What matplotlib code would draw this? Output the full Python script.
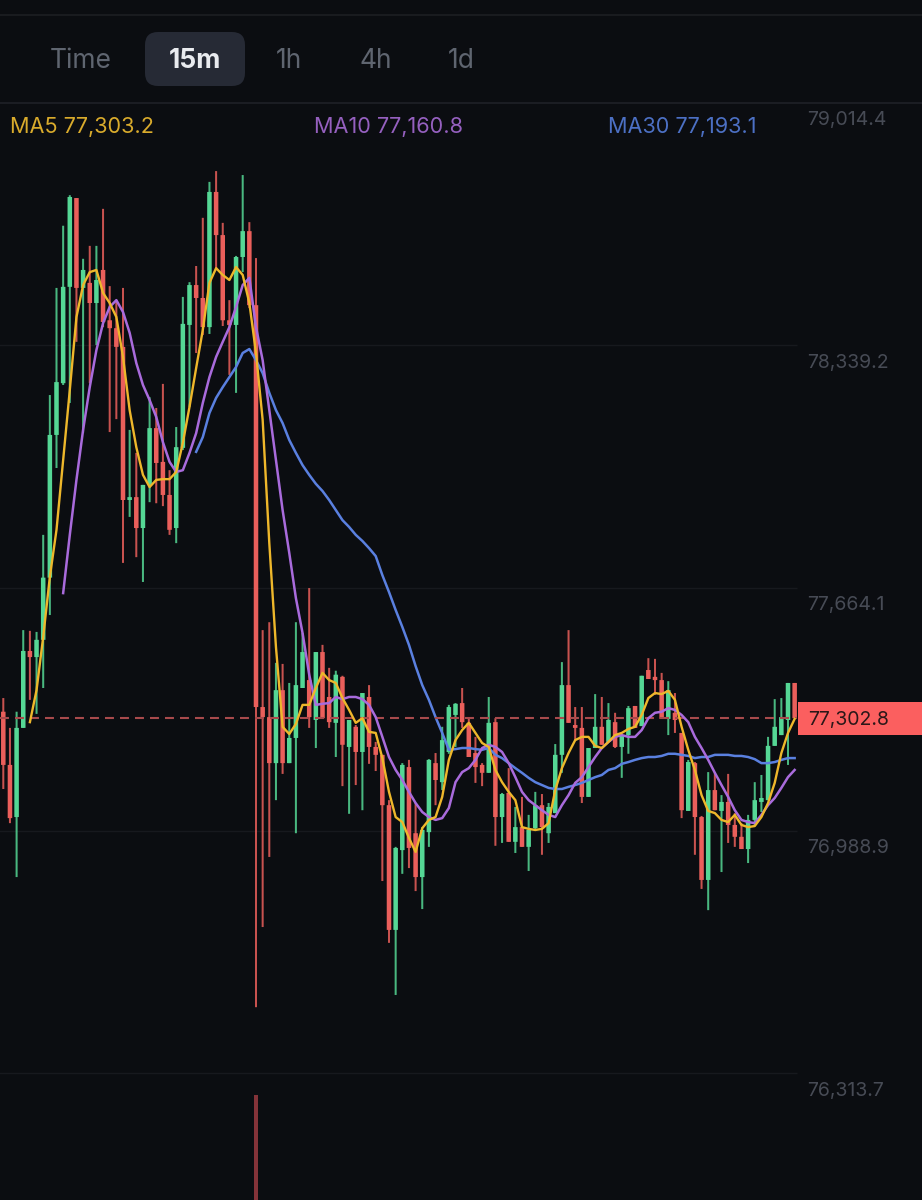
import matplotlib
matplotlib.use("Agg")
import matplotlib.pyplot as plt
from matplotlib.lines import Line2D
from matplotlib.patches import FancyBboxPatch, Rectangle
from matplotlib.transforms import IdentityTransform

plt.rcParams['font.family'] = ['Inter', 'DejaVu Sans']

# candles, 15m
opens = [77320, 77172, 77027, 77275, 77489, 77472, 77520, 77693, 78090, 78234,
         78502, 78749, 78499, 78513, 78457, 78549, 78409, 78387, 78335, 77909,
         77917, 77831, 77951, 78109, 78015, 77923, 77831, 78054, 78396, 78507,
         78471, 78390, 78766, 78646, 78409, 78396, 78585, 78657, 78451, 77333,
         77305, 77177, 77380, 77177, 77247, 77386, 77408, 77297, 77486, 77361,
         77289, 77417, 77222, 77278, 77208, 77361, 77222, 77200, 77060, 76713,
         76935, 77166, 76982, 76860, 76985, 77177, 77124, 77208, 77311, 77344,
         77289, 77205, 77172, 77150, 77291, 77027, 77094, 76958, 76999, 76944,
         76996, 77060, 76982, 77038, 77200, 77394, 77283, 77275, 77083, 77219,
         77278, 77236, 77291, 77222, 77255, 77336, 77280, 77436, 77417, 77408,
         77300, 77317, 77261, 77044, 77177, 77027, 76852, 77102, 77044, 77069,
         77005, 76972, 76938, 77019, 77069, 77074, 77225, 77255, 77297, 77400]
closes = [77172, 77024, 77275, 77489, 77472, 77520, 77693, 78090, 78237, 78502,
          78752, 78499, 78549, 78457, 78521, 78404, 78387, 78335, 77909, 77917,
          77831, 77951, 78109, 78012, 77923, 77826, 78056, 78399, 78507, 78471,
          78390, 78766, 78646, 78409, 78396, 78585, 78657, 78451, 77333, 77305,
          77177, 77380, 77177, 77247, 77394, 77486, 77305, 77486, 77302, 77291,
          77423, 77228, 77297, 77208, 77372, 77222, 77200, 77060, 76713, 76941,
          77172, 76941, 76860, 76991, 77186, 77130, 77241, 77333, 77342, 77291,
          77194, 77166, 77150, 77289, 77027, 77091, 76958, 76999, 76944, 76991,
          77060, 76999, 77055, 77200, 77394, 77289, 77275, 77083, 77219, 77278,
          77228, 77297, 77222, 77255, 77330, 77275, 77420, 77411, 77408, 77300,
          77380, 77297, 77046, 77180, 77027, 76852, 77102, 77046, 77069, 77005,
          76972, 76938, 77019, 77074, 77080, 77225, 77278, 77305, 77400, 77302]
highs = [77358, 77275, 77320, 77547, 77545, 77542, 77812, 78201, 78499, 78672,
         78757, 78749, 78580, 78616, 78616, 78719, 78504, 78465, 78499, 78104,
         78040, 77951, 78195, 78165, 78232, 77992, 78112, 78474, 78515, 78560,
         78694, 78794, 78824, 78680, 78465, 78588, 78813, 78682, 78582, 77547,
         77569, 77456, 77453, 77400, 77569, 77539, 77664, 77486, 77506, 77442,
         77434, 77420, 77297, 77283, 77372, 77394, 77236, 77200, 77074, 76944,
         77177, 77186, 77066, 76999, 77188, 77205, 77278, 77339, 77344, 77386,
         77305, 77250, 77177, 77361, 77302, 77094, 77163, 77055, 77083, 77033,
         77097, 77091, 77066, 77230, 77458, 77547, 77333, 77333, 77219, 77369,
         77361, 77344, 77317, 77255, 77336, 77336, 77420, 77469, 77467, 77428,
         77405, 77372, 77261, 77186, 77180, 77030, 77152, 77152, 77088, 77147,
         77038, 77010, 77033, 77124, 77144, 77250, 77355, 77358, 77400, 77400]
lows = [77105, 77010, 76860, 77275, 77353, 77314, 77386, 77589, 77998, 78229,
        78179, 78349, 78095, 78234, 78340, 78390, 78098, 78134, 77734, 77862,
        77750, 77681, 77903, 77900, 77892, 77812, 77789, 78048, 78168, 78318,
        78368, 78371, 78549, 78393, 78257, 78207, 78543, 78443, 76498, 76721,
        76916, 77074, 77147, 77177, 76982, 77386, 77275, 77219, 77302, 77275,
        77194, 77113, 77036, 77116, 77046, 77175, 77155, 76849, 76677, 76532,
        76869, 76885, 76821, 76771, 76944, 77060, 77102, 77203, 77222, 77275,
        77194, 77122, 77113, 77150, 76947, 76955, 76958, 76927, 76944, 76877,
        76991, 76922, 76955, 77038, 77150, 77289, 77241, 77066, 77083, 77219,
        77228, 77236, 77219, 77136, 77203, 77275, 77280, 77411, 77367, 77300,
        77255, 77261, 77024, 77044, 76922, 76827, 76768, 77046, 76874, 76955,
        76944, 76938, 76899, 77005, 77041, 77074, 77225, 77255, 77172, 77302]

# moving averages, first index where each one starts
ma5_start = 4
ma5 = [77291, 77380, 77528, 77695, 77826, 78020, 78215, 78418, 78507, 78543,
       78549, 78485, 78457, 78418, 78307, 78159, 78056, 77979, 77945, 77965,
       77967, 77967, 77987, 78068, 78168, 78276, 78382, 78513, 78554, 78535,
       78521, 78557, 78535, 78457, 78318, 78132, 77789, 77500, 77278, 77258,
       77286, 77339, 77339, 77386, 77428, 77408, 77400, 77358, 77325, 77289,
       77302, 77264, 77261, 77191, 77097, 77027, 77013, 76969, 76930, 76996,
       77019, 77027, 77083, 77186, 77241, 77269, 77289, 77261, 77233, 77222,
       77158, 77124, 77097, 77074, 76999, 76994, 76991, 76994, 77010, 77102,
       77163, 77205, 77241, 77250, 77250, 77225, 77219, 77236, 77255, 77261,
       77272, 77278, 77311, 77358, 77372, 77369, 77378, 77353, 77278, 77214,
       77158, 77088, 77044, 77038, 77019, 77013, 77033, 77005, 76999, 77002,
       77027, 77066, 77122, 77205, 77261, 77300]
ma10_start = 9
ma10 = [77650, 77812, 77965, 78104, 78223, 78326, 78401, 78446, 78465, 78432,
        78374, 78290, 78229, 78187, 78140, 78070, 78015, 77987, 77992, 78040,
        78095, 78179, 78251, 78307, 78349, 78390, 78446, 78507, 78527, 78390,
        78298, 78159, 78020, 77881, 77762, 77636, 77539, 77423, 77339, 77342,
        77344, 77361, 77355, 77361, 77361, 77355, 77339, 77305, 77250, 77194,
        77158, 77130, 77097, 77066, 77041, 77027, 77019, 77024, 77052, 77124,
        77152, 77163, 77186, 77219, 77228, 77222, 77208, 77177, 77138, 77097,
        77074, 77060, 77046, 77033, 77027, 77060, 77088, 77122, 77138, 77166,
        77194, 77219, 77236, 77250, 77255, 77250, 77250, 77269, 77302, 77317,
        77320, 77330, 77325, 77311, 77291, 77250, 77219, 77186, 77150, 77116,
        77083, 77046, 77019, 77013, 77010, 77033, 77060, 77080, 77108, 77138,
        77158]
ma30_start = 29
ma30 = [78043, 78084, 78151, 78193, 78223, 78251, 78279, 78318, 78329, 78298,
        78262, 78207, 78159, 78123, 78076, 78040, 78006, 77979, 77954, 77934,
        77909, 77881, 77853, 77834, 77812, 77795, 77775, 77753, 77700, 77653,
        77603, 77556, 77506, 77447, 77394, 77353, 77305, 77261, 77214, 77216,
        77219, 77219, 77216, 77214, 77219, 77200, 77191, 77177, 77163, 77150,
        77136, 77124, 77116, 77108, 77105, 77105, 77111, 77116, 77122, 77130,
        77138, 77144, 77158, 77163, 77175, 77180, 77186, 77191, 77194, 77194,
        77197, 77203, 77203, 77200, 77197, 77191, 77194, 77194, 77200, 77200,
        77200, 77197, 77197, 77194, 77188, 77177, 77177, 77180, 77186, 77191,
        77191]

price_ticks = [79014.4, 78339.2, 77664.1, 76988.9, 76313.7]
tick_labels = ['79,014.4', '78,339.2', '77,664.1', '76,988.9', '76,313.7']
last_price = 77302.8
last_label = '77,302.8'

volume_index = [38]
volume_values = [105]

tabs = ['Time', '1h', '4h', '1d']
tab_active = '15m'
ma_labels = ['MA5 77,303.2', 'MA10 77,160.8', 'MA30 77,193.1']

BG = '#0b0d11'
GREEN = '#55d795'
RED = '#ea5f5b'
YELLOW = '#eeb72b'
PURPLE = '#a96bdc'
BLUE = '#5a80e0'
W, H = 922, 1200


def px(x, y):
    # pixel position to figure fraction
    return x / W, 1 - y / H


fig = plt.figure(figsize=(W / 100, H / 100), dpi=100, facecolor=BG)
ax = fig.add_axes([0, 0, 1, 1], facecolor='none')
ax.set_xlim(-0.496, 138.15)
ax.set_ylim(75961.6, 79300)
ax.axis('off')

# grid
ax.hlines(price_ticks[1:], -1, 119.4, color='#17191e', lw=1, zorder=1)
ax.axhline(price_ticks[0], color='#1f2127', lw=1.2, zorder=1)
fig.add_artist(Line2D([0, 1], [1 - 15 / H] * 2, color='#1c1e23', lw=1.2))

for i in range(len(opens)):
    col = GREEN if closes[i] > opens[i] else RED
    ax.vlines(i, lows[i], highs[i], color=col, lw=1.45, alpha=0.85, zorder=2, snap=False)
    bottom = min(opens[i], closes[i])
    ax.bar(i, abs(closes[i] - opens[i]), bottom=bottom, width=0.68, color=col, zorder=3, snap=False)

ax.plot(range(ma30_start, ma30_start + len(ma30)), ma30, color=BLUE, lw=1.8, zorder=4)
ax.plot(range(ma10_start, ma10_start + len(ma10)), ma10, color=PURPLE, lw=1.8, zorder=5)
ax.plot(range(ma5_start, ma5_start + len(ma5)), ma5, color=YELLOW, lw=1.7, zorder=6)

# last price
ax.hlines(last_price, -0.5, 119.4, color='#a84a4c', lw=1.5, linestyles=(0, (4.3, 2.9)), zorder=4)
fig.add_artist(Rectangle((798 / W, 1 - 735 / H), 124 / W, 33 / H, transform=fig.transFigure,
                         color='#fb5f5f', lw=0))
x_, y_ = px(808, 720)
fig.text(x_, y_, last_label, color='#2a1718', fontsize=14, va='center', ha='left')

# price labels sit under their grid line
for p, lab in zip(price_ticks, tick_labels):
    ax.annotate(lab, xy=(120.9, p), xytext=(0, -12.5), textcoords='offset points',
                color='#474b55', fontsize=14, va='center', ha='left')

# volume pane, only the spike shows
ax_vol = fig.add_axes([0, 0, 1, 105 / H], facecolor='none')
ax_vol.set_xlim(ax.get_xlim())
ax_vol.set_ylim(0, 105)
ax_vol.axis('off')
ax_vol.bar(volume_index, volume_values, width=0.62, color='#843339')

# tabs
fig.add_artist(FancyBboxPatch((145, H - 86), 100, 54, boxstyle='round,pad=0,rounding_size=13',
                              transform=IdentityTransform(),
                              facecolor='#262a35', edgecolor='none'))
for lab, xc in zip(tabs, [81, 289, 376, 461]):
    x_, y_ = px(xc, 61)
    fig.text(x_, y_, lab, color='#5f6570', fontsize=19, ha='center', va='center')
x_, y_ = px(194.5, 61)
fig.text(x_, y_, tab_active, color='#e9ebef', fontsize=19, fontweight='bold', ha='center', va='center')

for lab, xl, col in zip(ma_labels, [10, 314, 608], ['#d9ab2c', '#9560bf', '#4c70c4']):
    x_, y_ = px(xl, 127)
    fig.text(x_, y_, lab, color=col, fontsize=15.6, ha='left', va='center')

fig.savefig('out.png', dpi=100, facecolor=BG)
